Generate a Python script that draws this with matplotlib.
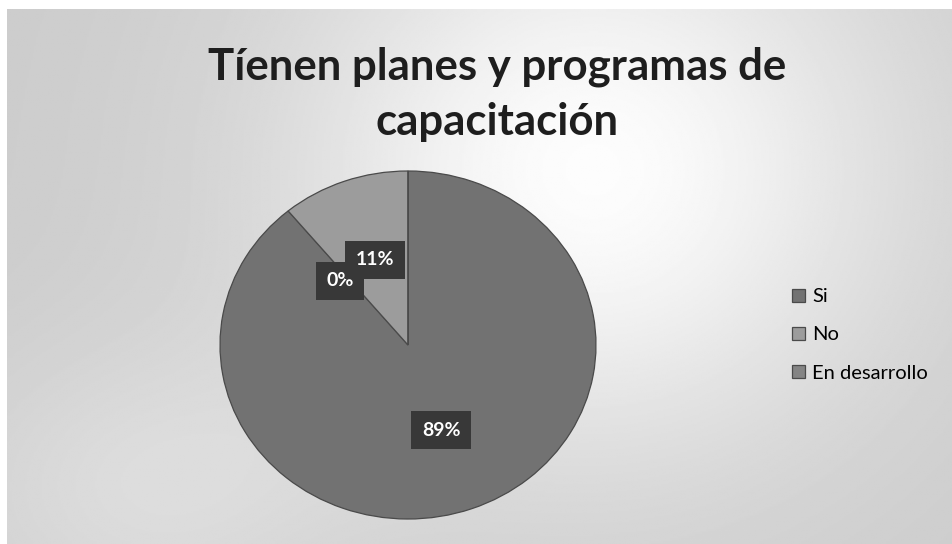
import numpy as np
import matplotlib.pyplot as plt

categories = ["Si", "No", "En desarrollo"]
shares = [89, 11, 0]
pct_labels = ["89%", "11%", "0%"]
title = "Tíenen planes y programas de\ncapacitación"

slice_colors = ["#727272", "#9c9c9c", "#848484"]

W, H = 953, 544
fig = plt.figure(figsize=(W / 100, H / 100), dpi=100)
fig.patch.set_facecolor("white")

# grey panel with a soft light bloom behind the title and legend
bg = fig.add_axes([7 / W, 0, 1 - 7 / W, 1 - 9 / H])
yy, xx = np.mgrid[0:1:300j, 0:1:500j]
shade = 0.80 + 0.19 * np.exp(-(((xx - 0.62) ** 2) / 0.10 + ((yy - 0.70) ** 2) / 0.28))
shade += 0.06 * np.exp(-(((xx - 0.15) ** 2) / 0.05 + ((yy - 0.1) ** 2) / 0.08))
shade = np.clip(shade, 0, 1)
bg.imshow(shade, cmap="gray", vmin=0, vmax=1, origin="lower",
          extent=[0, 1, 0, 1], aspect="auto")
bg.set_axis_off()

# pie
cx, cy, rx, ry = 408, 345, 188, 174
ax = fig.add_axes([(cx - rx) / W, (H - cy - ry) / H, 2 * rx / W, 2 * ry / H])
wedges, _ = ax.pie(shares, colors=slice_colors, startangle=90, counterclock=False,
                   radius=1, wedgeprops=dict(edgecolor="#4a4a4a", linewidth=0.9))
ax.set_xlim(-1, 1)
ax.set_ylim(-1, 1)
ax.set_aspect("auto")

box = dict(boxstyle="square,pad=0.55", facecolor="#383838", edgecolor="none")
order = sorted(range(len(shares)), key=lambda i: shares[i] > 0)
for i in order:
    w = wedges[i]
    mid = np.deg2rad((w.theta1 + w.theta2) / 2)
    x, y = 0.52 * np.cos(mid), 0.52 * np.sin(mid)
    offset = (0, 0) if shares[i] > 0 else (-49, -19)
    ax.annotate(pct_labels[i], (x, y), xytext=offset, textcoords="offset points",
                ha="center", va="center", color="white", fontsize=14,
                fontweight="bold", family="Lato", bbox=box,
                zorder=5 if shares[i] > 0 else 4)

fig.text(497 / W, 1 - 94 / H, title, ha="center", va="center",
         fontsize=31.5, fontweight="bold", family="Lato", color="#1e1e1e",
         linespacing=1.45)

fig.legend(wedges, categories, loc="center left",
           bbox_to_anchor=(774 / W, 1 - 335 / H), frameon=False,
           handlelength=0.65, handleheight=0.65,
           handletextpad=0.35, labelspacing=1.05,
           prop={"family": "Lato", "size": 14.5})

fig.savefig("out.png", dpi=100)
